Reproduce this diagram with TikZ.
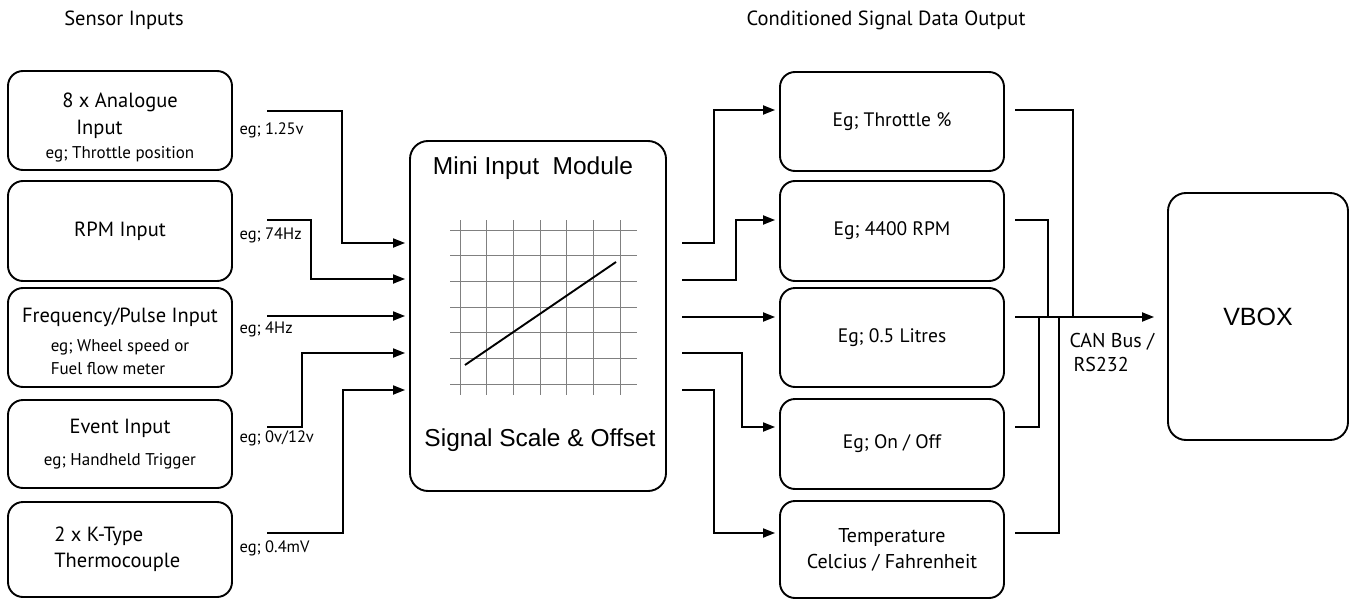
\documentclass[tikz,border=0pt]{standalone}
\usepackage{fontspec}
\setmainfont{PT Sans}
\newfontfamily\arialfont{Liberation Sans}
\usetikzlibrary{arrows.meta, positioning, calc}

\begin{document}
\begin{tikzpicture}[x=1pt, y=-1pt,
        sensorbox/.style={rectangle, draw=black, line width=1.9pt, rounded corners=15pt, minimum width=224pt, align=center, font=\fontsize{20.5}{26}\selectfont},
        outbox/.style={sensorbox, font=\fontsize{19.5}{26}\selectfont},
        modbox/.style={rectangle, draw=black, line width=1.9pt, rounded corners=18pt, minimum width=256pt, minimum height=350pt},
        vboxbox/.style={rectangle, draw=black, line width=1.9pt, rounded corners=18pt, minimum width=180pt, minimum height=247pt, font=\arialfont\fontsize{25}{28}\selectfont},
        heading/.style={font=\fontsize{20.5}{24}\selectfont},
        modtext/.style={font=\arialfont\fontsize{24.5}{28}\selectfont},
        sig/.style={anchor=west, font=\fontsize{16.5}{20}\selectfont},
        wire/.style={line width=1.9pt},
        arrow/.style={-{Triangle[length=12pt,width=9pt]}, wire, shorten >=4pt}
    ]
    \useasboundingbox (0,0) rectangle (1351,599);

    % Headings
    \node (inhead) [heading] at (124,20) {Sensor Inputs};
    \node (outhead) [heading, anchor=east] at (1029,20) {Conditioned Signal Data Output};

    % Sensor inputs
    \node (analog) [sensorbox, minimum height=99pt] at (120,120.5) {
        \begin{tabular}{@{}l@{}}\rule{0pt}{28pt}8 x Analogue\\[1pt]\hspace*{14pt}Input\end{tabular}\\[3pt]
        {\fontsize{17}{23}\selectfont eg; Throttle position}
    };
    \node (rpm) [sensorbox, minimum height=100pt] at (120,231) {RPM Input};
    \node (freq) [sensorbox, minimum height=99pt] at (120,337.5) {
        \rule{0pt}{29pt}Frequency/Pulse Input\\[8pt]
        {\fontsize{17}{23}\selectfont\begin{tabular}{@{}l@{}}eg; Wheel speed or\\Fuel flow meter\end{tabular}}
    };
    \node (event) [sensorbox, minimum height=88pt] at (120,444) {
        Event Input\\[6pt]
        {\fontsize{17}{23}\selectfont eg; Handheld Trigger}
    };
    \node (ktype) [sensorbox, minimum height=95pt] at (120,549.5) {
        \begin{tabular}{@{}l@{}}2 x K-Type\\Thermocouple\end{tabular}
    };

    % Signal labels
    \node (sig1) [sig] at (236,130) {eg; 1.25v};
    \node (sig2) [sig] at (236,235) {eg; 74Hz};
    \node (sig3) [sig] at (236,329) {eg; 4Hz};
    \node (sig4) [sig] at (236,438) {eg; 0v/12v};
    \node (sig5) [sig] at (236,548) {eg; 0.4mV};

    % Mini Input Module
    \node (module) [modbox] at (538,316) {};
    \node (modtitle) [modtext] at (533,168) {Mini Input\ \ Module};
    \node (modfoot) [modtext] at (540,440) {Signal Scale \& Offset};
    \foreach \i in {0,...,6} {
        \draw[gray, line width=0.6pt] (460+26.67*\i,220) -- (460+26.67*\i,395);
        \draw[gray, line width=0.6pt] (450,230+25.67*\i) -- (637,230+25.67*\i);
    }
    \draw[line width=1.9pt] (465,365) -- (616,262);

    % Conditioned outputs
    \node (throttle) [outbox, minimum height=99pt] at (892,121.5) {Eg; Throttle \%};
    \node (revs) [outbox, minimum height=100pt] at (892,231) {Eg; 4400 RPM};
    \node (litres) [outbox, minimum height=99pt] at (892,337.5) {Eg; 0.5 Litres};
    \node (onoff) [outbox, minimum height=90pt] at (892,444) {Eg; On / Off};
    \node (temp) [outbox, minimum height=97pt, font=\fontsize{20}{26}\selectfont] at (892,549.5) {Temperature\\Celcius / Fahrenheit};

    % VBOX
    \node (vbox) [vboxbox] at (1258,316.5) {VBOX};
    \node (canbus) [anchor=west, align=left, font=\fontsize{20}{24}\selectfont] at (1066,352) {CAN Bus /\\\hspace*{4pt}RS232};

    % Free ends
    \coordinate (a1) at (267,111);
    \coordinate (a2) at (267,220);
    \coordinate (a3) at (267,316);
    \coordinate (a4) at (267,427);
    \coordinate (a5) at (267,533);
    \foreach \n/\y in {1/243,2/280,3/317,4/353,5/390}
        \coordinate (m\n) at (682,\y);
    \foreach \n/\y in {1/110,2/220,3/317,4/427,5/533}
        \coordinate (r\n) at (1015,\y);

    % Edges into the module
    \draw[arrow] (a1) -| (342,243) -- (module.west |- 0,243);
    \draw[arrow] (a2) -| (311,279) -- (module.west |- 0,279);
    \draw[arrow] (a3) -- (module.west |- a3);
    \draw[arrow] (a4) -| (302,353) -- (module.west |- 0,353);
    \draw[arrow] (a5) -| (343,390) -- (module.west |- 0,390);

    % Edges out of the module
    \draw[arrow] (m1) -| (714,110) -- (throttle.west |- 0,110);
    \draw[arrow] (m2) -| (736,220) -- (revs.west |- 0,220);
    \draw[arrow] (m3) -- (litres.west |- m3);
    \draw[arrow] (m4) -| (742,427) -- (onoff.west |- 0,427);
    \draw[arrow] (m5) -| (714,533) -- (temp.west |- 0,533);

    % Bus to VBOX
    \draw[wire] (r1) -| (1073,317);
    \draw[wire] (r2) -| (1048,317);
    \draw[wire] (r4) -| (1039,317);
    \draw[wire] (r5) -| (1059,317);
    \draw[arrow, shorten >=13pt] (r3) -- (vbox.west |- r3);

\end{tikzpicture}
\end{document}
